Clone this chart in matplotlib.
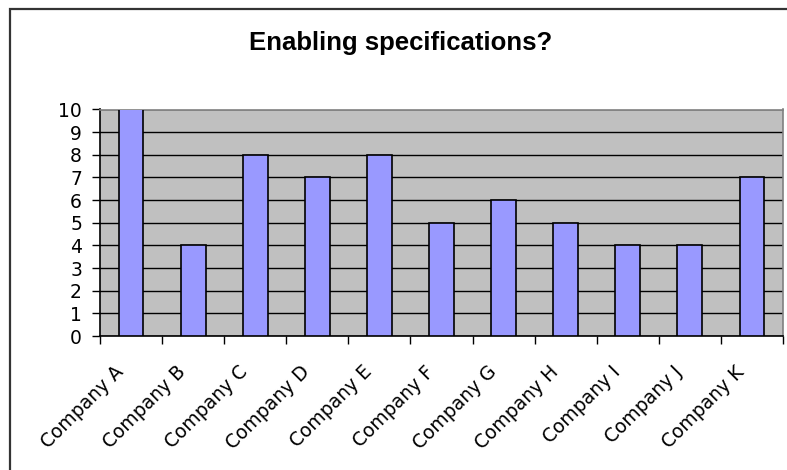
import matplotlib
matplotlib.use("Agg")
import matplotlib.pyplot as plt
from matplotlib.patches import Rectangle
import matplotlib.transforms as mtransforms
import numpy as np

title = "Enabling specifications?"
companies = ["Company A", "Company B", "Company C", "Company D", "Company E",
             "Company F", "Company G", "Company H", "Company I", "Company J",
             "Company K"]
counts = [10, 4, 8, 7, 8, 5, 6, 5, 4, 4, 7]
y_ticks = list(range(0, 11))

W, H = 787, 470
fig = plt.figure(figsize=(W / 100, H / 100), dpi=100)
fig.patch.set_facecolor("white")

# chart frame (left and top edges visible)
fig.patches.append(Rectangle((10 / W, -0.2), 1.2, (H - 9) / H + 0.2,
                             transform=fig.transFigure, fill=False,
                             edgecolor="#333333", linewidth=1.6, zorder=0))

ax = fig.add_axes([100 / W, (H - 336) / H, (783 - 100) / W, (336 - 109.5) / H])
ax.set_facecolor("#C0C0C0")

x = np.arange(len(companies))
ax.bar(x, counts, width=0.4, color="#9999FF", edgecolor="black",
       linewidth=1.2, zorder=3)

ax.set_xlim(-0.5, len(companies) - 0.5)
ax.set_ylim(0, 10)
ax.set_yticks(y_ticks)
ax.set_yticklabels([str(v) for v in y_ticks], family="DejaVu Sans",
                   fontsize=13.5)
ax.yaxis.grid(True, color="black", linewidth=1.0, zorder=1)
ax.set_axisbelow(True)

ax.set_xticks(x)
ax.set_xticklabels(companies, rotation=45, ha="right", rotation_mode="anchor",
                   family="DejaVu Sans", fontsize=13.5)
ax.set_xticks(np.arange(-0.5, len(companies)), minor=True)
ax.tick_params(axis="x", which="major", length=0, pad=19)
ax.tick_params(axis="x", which="minor", length=6, width=1, color="black",
               direction="out")
ax.tick_params(axis="y", length=6, width=1, color="black", direction="out",
               pad=7)

# nudge the slanted category labels to the left of their slots
shift = mtransforms.ScaledTranslation(-17 / 100, 0, fig.dpi_scale_trans)
for tick in ax.xaxis.get_major_ticks():
    tick.label1.set_transform(tick.label1.get_transform() + shift)

for side in ("top", "right"):
    ax.spines[side].set_color("#808080")
    ax.spines[side].set_linewidth(1.2)
for side in ("left", "bottom"):
    ax.spines[side].set_color("black")
    ax.spines[side].set_linewidth(1.2)

fig.text(401 / W, 1 - 43 / H, title, ha="center", va="center",
         family="Liberation Sans", fontweight="bold", fontsize=18.5)

fig.savefig("out.png", dpi=100)
